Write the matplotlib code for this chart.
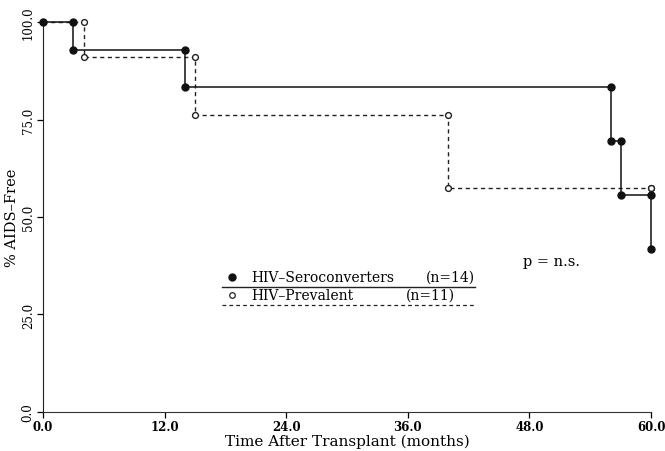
import matplotlib
matplotlib.use('Agg')
import matplotlib.pyplot as plt

# Kaplan-Meier style estimates
sero_times = [0, 3, 14, 56, 57, 60]
sero_surv = [100, 92.9, 83.3, 69.4, 55.6, 41.7]
prev_times = [0, 4, 15, 40, 60]
prev_surv = [100, 90.9, 76.2, 57.4, 57.4]

x_ticks = [0, 12, 24, 36, 48, 60]
y_ticks = [0, 25, 50, 75, 100]

plt.rcParams['font.family'] = ['DejaVu Serif']


def step_points(times, surv):
    xs, ys = [times[0]], [surv[0]]
    for i in range(1, len(times)):
        xs += [times[i], times[i]]
        ys += [surv[i - 1], surv[i]]
    return xs, ys


fig = plt.figure(figsize=(6.65, 4.52), dpi=100)
ax = fig.add_axes([0.0647, 0.0863, 0.9143, 0.8628])

px, py = step_points(prev_times, prev_surv)
ax.plot(px, py, color='#222222', lw=1.0, ls=(0, (3, 2.5)), marker='o',
        ms=4.2, mfc='white', mec='#222222', mew=1.0, clip_on=False, zorder=2)

sx, sy = step_points(sero_times, sero_surv)
ax.plot(sx, sy, color='#111111', lw=1.1, marker='o', ms=5.0,
        mfc='#111111', mec='#111111', clip_on=False, zorder=3)

ax.set_xlim(0, 60)
ax.set_ylim(0, 100)
ax.set_xticks(x_ticks)
ax.set_xticklabels(['%.1f' % v for v in x_ticks], fontsize=8.5, fontweight='bold')
ax.set_yticks(y_ticks)
ax.set_yticklabels(['%.1f' % v for v in y_ticks], fontsize=8.5, rotation=90,
                   va='center')
ax.spines['top'].set_visible(False)
ax.spines['right'].set_visible(False)
ax.spines['left'].set_color('#222222')
ax.spines['bottom'].set_color('#333333')
ax.tick_params(direction='out', length=4, width=0.9, pad=2)

ax.set_xlabel('Time After Transplant (months)', fontsize=11, labelpad=0)
ax.set_ylabel('% AIDS\u2013Free', fontsize=10.5, labelpad=2)

# hand-made legend
ax.plot([17.7, 42.6], [32.1, 32.1], color='#222222', lw=1.0, clip_on=False)
ax.plot([17.7, 42.6], [27.5, 27.5], color='#222222', lw=0.9, ls=(0, (3, 2.5)),
        clip_on=False)
ax.plot([18.6], [34.7], 'o', ms=5, color='#111111')
ax.plot([18.6], [30.0], 'o', ms=4, mfc='white', mec='#222222', mew=0.9)
ax.text(20.6, 34.7, 'HIV\u2013Seroconverters', fontsize=10, va='center')
ax.text(37.8, 34.7, '(n=14)', fontsize=10, va='center')
ax.text(20.6, 30.0, 'HIV\u2013Prevalent', fontsize=10, va='center')
ax.text(35.8, 30.0, '(n=11)', fontsize=10, va='center')

ax.text(47.4, 38.7, 'p = n.s.', fontsize=10.5, va='center')

fig.savefig('out.png', dpi=100)
